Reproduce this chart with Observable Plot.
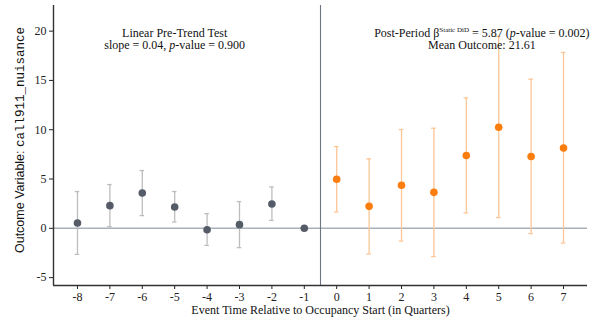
<!DOCTYPE html>
<html>
<head>
<meta charset="utf-8">
<script src="https://cdn.jsdelivr.net/npm/d3@7"></script>
<script src="https://cdn.jsdelivr.net/npm/@observablehq/plot@0.6"></script>
<style>
  html, body { margin: 0; padding: 0; background: white; }
  #chart svg { display: block; }
</style>
</head>
<body>
<div id="chart"></div>
<script>
const eventTime = [-8, -7, -6, -5, -4, -3, -2, -1, 0, 1, 2, 3, 4, 5, 6, 7];
const estimate  = [0.54, 2.30, 3.58, 2.16, -0.14, 0.37, 2.47, 0, 4.97, 2.23, 4.37, 3.65, 7.38, 10.25, 7.28, 8.15];
const ciLow     = [-2.64, 0.17, 1.29, 0.64, -1.73, -1.96, 0.81, 0, 1.66, -2.60, -1.29, -2.87, 1.56, 1.09, -0.54, -1.49];
const ciHigh    = [3.73, 4.44, 5.86, 3.73, 1.49, 2.71, 4.19, 0, 8.29, 7.04, 10.02, 10.15, 13.23, 19.45, 15.13, 17.84];
const yTicks = [-5, 0, 5, 10, 15, 20];
const preText = ["Linear Pre-Trend Test", "slope = 0.04, p-value = 0.900"];
const postText = ["Post-Period β = 5.87 (p-value = 0.002)", "Mean Outcome: 21.61"];
const xLabel = "Event Time Relative to Occupancy Start (in Quarters)";
const yLabelA = "Outcome Variable: ";
const yLabelB = "call911_nuisance";

const data = eventTime.map((t, i) => ({t, est: estimate[i], lo: ciLow[i], hi: ciHigh[i], post: t >= 0}));
const pre = data.filter(d => !d.post && d.t !== -1);
const ref = data.filter(d => d.t === -1);
const post = data.filter(d => d.post);

const grayCI = "#bdbdbd", grayDot = "#555b67";
const orCI = "#fdc696", orDot = "#fb7d0d";
const capW = 0.07;

function bars(arr, color) {
  return [
    Plot.ruleX(arr, {x: "t", y1: "lo", y2: "hi", stroke: color, strokeWidth: 1.3}),
    Plot.ruleY(arr, {y: "hi", x1: d => d.t - capW, x2: d => d.t + capW, stroke: color, strokeWidth: 1.3}),
    Plot.ruleY(arr, {y: "lo", x1: d => d.t - capW, x2: d => d.t + capW, stroke: color, strokeWidth: 1.3})
  ];
}

const xDom = [-8.74, 7.74], yDom = [-5.8, 22.6];

const chart = Plot.plot({
  width: 596, height: 324,
  marginLeft: 53, marginRight: 9, marginTop: 5, marginBottom: 39,
  style: {fontFamily: "'Liberation Serif', 'Times New Roman', serif", fontSize: "12px", background: "white", color: "#222"},
  x: {domain: xDom, ticks: eventTime, tickFormat: d => String(d), label: null, tickSize: 4, tickPadding: 3},
  y: {domain: yDom, ticks: yTicks, tickFormat: d => String(d), label: null, tickSize: 4, tickPadding: 3},
  marks: [
    Plot.ruleY([0], {stroke: "#a9b1b9", strokeWidth: 1.4}),
    Plot.ruleX([-0.5], {stroke: "#6f7683", strokeWidth: 1.1}),
    ...bars(pre, grayCI),
    ...bars(post, orCI),
    Plot.dot(pre.concat(ref), {x: "t", y: "est", r: 3.8, fill: grayDot}),
    Plot.dot(post, {x: "t", y: "est", r: 3.8, fill: orDot}),
    Plot.ruleX([xDom[0]], {stroke: "#333", strokeWidth: 1.4}),
    Plot.ruleY([yDom[0]], {stroke: "#333", strokeWidth: 1.4}),
    Plot.text([preText[0]], {x: -5, y: 19.8, text: d => d, fontSize: 12, fill: "#111"}),
    Plot.text([preText[1]], {x: -5, y: 18.58, text: d => d, fontSize: 12, fill: "#111"}),
    Plot.text([postText[0]], {x: 4.48, y: 19.8, text: d => d, fontSize: 12, fill: "#111"}),
    Plot.text([postText[1]], {x: 4.48, y: 18.58, text: d => d, fontSize: 12, fill: "#111"}),
    Plot.text([xLabel], {frameAnchor: "bottom", dy: 28, text: d => d, fontSize: 12, fill: "#111"})
  ]
});

const svg = d3.select(chart);
svg.selectAll("text").each(function() {
  const el = d3.select(this);
  const s = this.textContent;
  if (s === preText[1]) {
    el.text(null);
    el.append("tspan").text("slope = 0.04, ");
    el.append("tspan").attr("font-style", "italic").text("p");
    el.append("tspan").text("-value = 0.900");
  } else if (s === postText[0]) {
    el.text(null);
    el.append("tspan").text("Post-Period β");
    el.append("tspan").attr("font-size", 7).attr("dy", "-5").text("Static DiD");
    el.append("tspan").attr("dy", "5").text(" = 5.87 (");
    el.append("tspan").attr("font-style", "italic").text("p");
    el.append("tspan").text("-value = 0.002)");
  }
});

// y-axis title with mixed fonts
const yl = svg.append("text")
  .attr("transform", "translate(21,140) rotate(-90)")
  .attr("text-anchor", "middle")
  .attr("dominant-baseline", "middle")
  .attr("fill", "#111");
yl.append("tspan").attr("font-family", "'Liberation Sans', Arial, sans-serif").attr("font-size", 12.5).text(yLabelA);
yl.append("tspan").attr("font-family", "'Liberation Mono', 'DejaVu Sans Mono', monospace").attr("font-size", 12.5).text(yLabelB);

document.getElementById("chart").appendChild(chart);
</script>
</body>
</html>
